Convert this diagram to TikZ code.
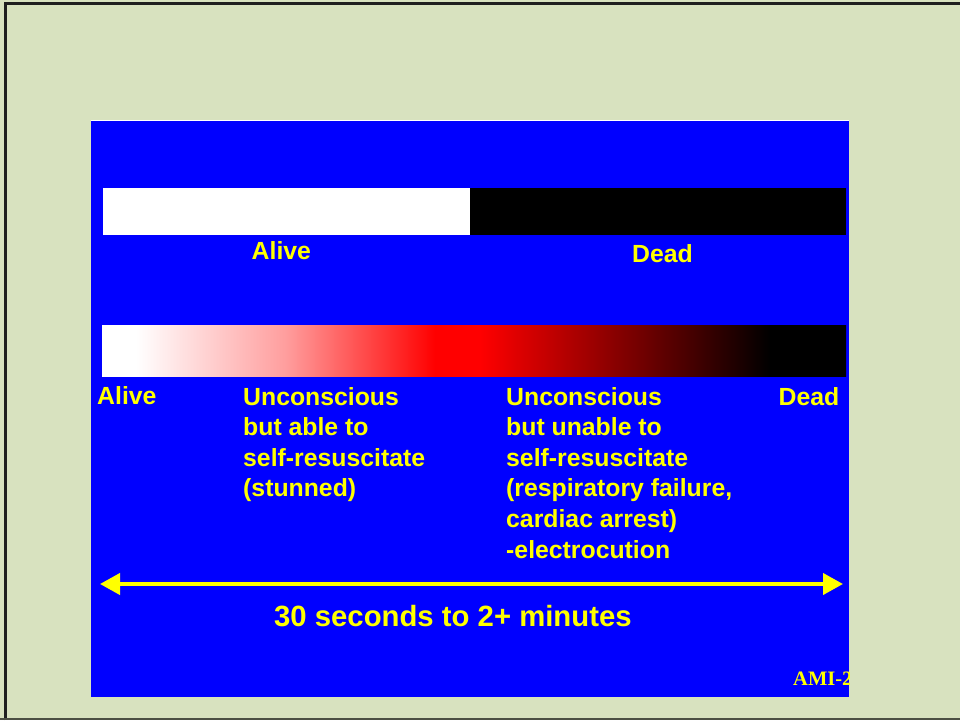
\documentclass[tikz,border=0pt]{standalone}
\usepackage{fontspec}
\setmainfont{Liberation Sans}
\newfontfamily\serifbf{Liberation Serif}
\usetikzlibrary{arrows.meta}
\definecolor{bgc}{HTML}{D8E2BF}
\definecolor{panel}{HTML}{0000FF}
\definecolor{txt}{HTML}{FFFF00}
\pgfdeclarehorizontalshading{lifebar}{100bp}{rgb(0bp)=(1,1,1); rgb(27.29bp)=(1,1,1); rgb(37.30bp)=(1,0.62,0.62); rgb(47.38bp)=(1,0,0); rgb(50.40bp)=(1,0,0); rgb(69.89bp)=(0,0,0); rgb(100bp)=(0,0,0)}
\begin{document}
\begin{tikzpicture}[x=1pt,y=-1pt,
  lbl/.style={text=txt, font=\fontsize{24.8}{30.6}\selectfont\bfseries, inner sep=0pt, anchor=base west, align=left},
  big/.style={text=txt, font=\fontsize{29.3}{34}\selectfont\bfseries, inner sep=0pt, anchor=base west},
  span/.style={draw=txt, line width=4pt, {Triangle[length=20pt,width=21pt]}-{Triangle[length=20pt,width=21pt]}}]
\useasboundingbox (0,0) rectangle (960,720);
\fill[bgc] (0,0) rectangle (960,720);
% frame
\draw[line width=3.5pt, color=black!88] (5.5,720) -- (5.5,3.5) -- (960,3.5);
\draw[line width=2pt, color=black!65!bgc] (0,719) -- (960,719);
% panel
\fill[panel] (91,121) rectangle (849,697);
\draw[white, line width=1pt] (91,120.5) -- (849,120.5);
% top bar
\fill[white] (103,188) rectangle (470,235);
\fill[black] (470,188) rectangle (846,235);
% gradient bar
\shade[shading=lifebar] (102,325) rectangle (846,376);
% labels (anchor = baseline of the last line)
\node[lbl] (alive1) at (251.5,259) {Alive};
\node[lbl] (dead1) at (632,262) {Dead};
\node[lbl] (alive2) at (97,404) {Alive};
\node[lbl] (stun) at (243,496.8) {Unconscious\\but able to\\self-resuscitate\\(stunned)};
\node[lbl] (arrest) at (506,558) {Unconscious\\but unable to\\self-resuscitate\\(respiratory failure,\\cardiac arrest)\\-electrocution};
\node[lbl] (dead2) at (778.5,405) {Dead};
% time span arrow
\coordinate (aL) at (100,584);
\coordinate (aR) at (843,584);
\draw[span] (aL) -- (aR);
\node[big] (time) at (274,626) {30 seconds to 2+ minutes};
% footer
\begin{scope}
\clip (91,121) rectangle (849,697);
\node[text=txt, font=\fontsize{20.5}{24}\selectfont\serifbf\bfseries, inner sep=0pt, anchor=base west] (ami) at (793,685) {AMI-2};
\end{scope}
\end{tikzpicture}
\end{document}
